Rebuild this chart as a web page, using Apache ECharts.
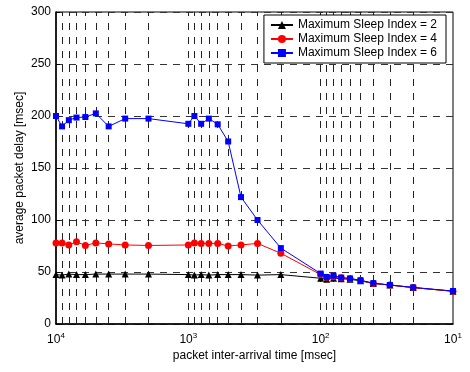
<!DOCTYPE html>
<html>
<head>
<meta charset="utf-8">
<title>Average packet delay vs. packet inter-arrival time</title>
<script src="https://cdn.jsdelivr.net/npm/echarts@6/dist/echarts.min.js"></script>
<style>
  html, body { margin: 0; padding: 0; background: #fff; }
  #chart { width: 470px; height: 372px; }
</style>
</head>
<body>
<div id="chart"></div>
<script>
// Packet inter-arrival times [msec] (log axis, decreasing to the right)
const interArrival = [10000, 9000, 8000, 7000, 6000, 5000, 4000, 3000, 2000,
                      1000, 900, 800, 700, 600, 500, 400, 300, 200,
                      100, 90, 80, 70, 60, 50, 40, 30, 20, 10];

// Average packet delay [msec] per maximum sleep index
const delaySleep2 = [47.5, 47, 48, 47.5, 47.5, 48, 48, 48, 48,
                     47.5, 47, 47.5, 47, 47.5, 47.5, 47.5, 47, 47.5,
                     44, 43, 44, 43.5, 43, 41.5, 39, 37.5, 35, 31.5];
const delaySleep4 = [78, 78, 76, 79, 75.5, 78, 77, 76, 75.5,
                     76, 78, 77.5, 77.5, 77.5, 75, 76, 77.5, 68,
                     47.5, 45, 45.5, 44.5, 43.5, 42, 39, 37.5, 35, 31.5];
const delaySleep6 = [200, 190, 196, 198.5, 199, 202.5, 190, 197.5, 197.5,
                     192.5, 200, 192.5, 197.5, 192, 175.5, 122, 100, 73,
                     48.5, 45.2, 46.4, 44.6, 43.8, 42, 39.3, 37.5, 35.2, 31.7];

const seriesNames = ['Maximum Sleep Index = 2', 'Maximum Sleep Index = 4', 'Maximum Sleep Index = 6'];

// Log-scale grid lines (major decades and the 2..9 minor steps)
const xGridValues = [20, 30, 40, 50, 60, 70, 80, 90, 100,
                     200, 300, 400, 500, 600, 700, 800, 900, 1000,
                     2000, 3000, 4000, 5000, 6000, 7000, 8000, 9000];

// Y ticks
const yMin = 0, yMax = 300, yStep = 50;

const FONT = "'Liberation Sans', Arial, Helvetica, sans-serif";

function pairs(xs, ys) {
  return xs.map((x, i) => [x, ys[i]]);
}

const chart = echarts.init(document.getElementById('chart'), null, { renderer: 'canvas' });

const option = {
  animation: false,
  backgroundColor: '#fff',
  textStyle: { fontFamily: FONT },
  grid: {
    left: 56, right: 17, top: 12, bottom: 48,
    show: true, borderColor: '#000', borderWidth: 1, backgroundColor: 'transparent'
  },
  legend: {
    orient: 'vertical',
    right: 24, top: 15,
    z: 20,
    backgroundColor: '#fff',
    borderColor: '#000', borderWidth: 1, borderRadius: 0,
    padding: [3, 9, 3, 6],
    itemWidth: 22, itemHeight: 10, itemGap: 0,
    textStyle: { fontFamily: FONT, fontSize: 12, color: '#000', lineHeight: 14 },
    data: seriesNames
  },
  xAxis: {
    type: 'log',
    logBase: 10,
    min: 10, max: 10000,
    inverse: true,
    name: 'packet inter-arrival time [msec]',
    nameLocation: 'middle',
    nameGap: 26,
    nameMoveOverlap: false,
    nameTextStyle: { fontFamily: FONT, fontSize: 12, color: '#000' },
    axisLine: { onZero: false, lineStyle: { color: '#000', width: 1.5 } },
    axisTick: { show: false },
    splitLine: { show: false },
    axisLabel: {
      margin: 8,
      color: '#000',
      formatter: function (v) {
        const e = Math.round(Math.log10(v));
        return '{b|10}{e|' + e + '}';
      },
      rich: {
        b: { fontFamily: FONT, fontSize: 12, color: '#000', lineHeight: 14, verticalAlign: 'bottom' },
        e: { fontFamily: FONT, fontSize: 8, color: '#000', lineHeight: 8, verticalAlign: 'top' }
      }
    }
  },
  yAxis: {
    type: 'value',
    min: yMin, max: yMax, interval: yStep,
    name: 'average packet delay [msec]',
    nameLocation: 'middle',
    nameGap: 30,
    nameMoveOverlap: false,
    nameTextStyle: { fontFamily: FONT, fontSize: 12, color: '#000' },
    axisLine: { show: true, lineStyle: { color: '#000', width: 1.5 } },
    axisTick: { show: true, inside: true, length: 4, lineStyle: { color: '#000' } },
    axisLabel: { margin: 5, color: '#000', fontFamily: FONT, fontSize: 12 },
    splitLine: { show: true, lineStyle: { color: '#333', width: 1, type: [7, 6] } }
  },
  series: [
    {
      // carries the vertical log grid lines
      name: 'grid',
      type: 'line',
      data: [],
      z: 1,
      silent: true,
      markLine: {
        z: 1,
        silent: true,
        symbol: ['none', 'none'],
        label: { show: false },
        lineStyle: { color: '#222', width: 1, type: [7, 7] },
        emphasis: { disabled: true },
        data: xGridValues.map(v => ({ xAxis: v }))
      }
    },
    {
      name: seriesNames[0],
      type: 'line',
      z: 3,
      data: pairs(interArrival, delaySleep2),
      symbol: 'triangle', symbolSize: 7,
      color: '#000',
      lineStyle: { color: '#000', width: 1 },
      itemStyle: { color: '#000' }
    },
    {
      name: seriesNames[1],
      type: 'line',
      z: 4,
      data: pairs(interArrival, delaySleep4),
      symbol: 'circle', symbolSize: 7,
      color: '#ff0000',
      lineStyle: { color: '#ff0000', width: 1 },
      itemStyle: { color: '#ff0000' }
    },
    {
      name: seriesNames[2],
      type: 'line',
      z: 5,
      data: pairs(interArrival, delaySleep6),
      symbol: 'rect', symbolSize: 6,
      color: '#0000ff',
      lineStyle: { color: '#0000ff', width: 1 },
      itemStyle: { color: '#0000ff' }
    }
  ]
};

chart.setOption(option);
</script>
</body>
</html>
